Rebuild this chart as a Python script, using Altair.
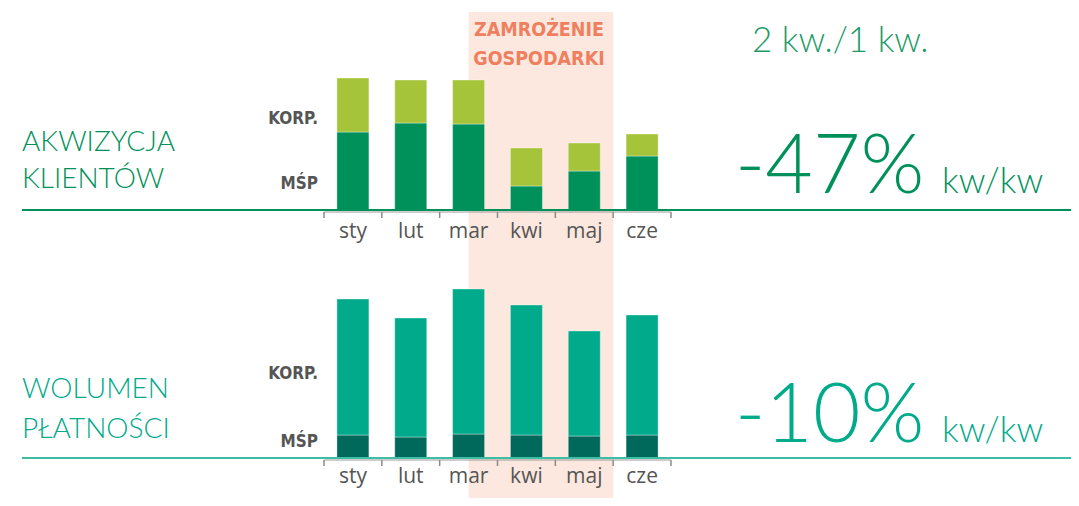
import altair as alt
import pandas as pd

# ---- data ----
months = ["sty", "lut", "mar", "kwi", "maj", "cze"]
segments = ["MŚP", "KORP."]
akw_msp = [78, 87, 86, 24, 39, 54]
akw_korp = [54, 43, 44, 38, 28, 22]
wol_msp = [23, 21, 24, 23, 22, 23]
wol_korp = [136, 119, 145, 130, 105, 120]
freeze_start = ["mar"]
freeze_end = ["maj"]


def long_df(msp, korp):
    rows = []
    for m, a, b in zip(months, msp, korp):
        rows.append({"month": m, "segment": segments[0], "value": a, "ord": 0})
        rows.append({"month": m, "segment": segments[1], "value": b, "ord": 1})
    return pd.DataFrame(rows)


akw_df = long_df(akw_msp, akw_korp)
wol_df = long_df(wol_msp, wol_korp)
month_df = pd.DataFrame({"month": months})
last_df = pd.DataFrame({"month": [months[-1]]})
first_last_df = pd.DataFrame({"a": [months[0]], "b": [months[-1]]})
shade_df = pd.DataFrame({"s": freeze_start, "e": freeze_end})

W, H = 1063, 490
xscale = alt.Scale(type="band", domain=months, range=[316, 663], paddingInner=0, paddingOuter=0)

GREEN = "#00915a"
LIME = "#a6c43a"
TEAL = "#00aa8b"
DTEAL = "#00695c"
GRAY = "#555555"
COND = "Liberation Sans Narrow, DejaVu Sans Condensed, sans-serif"
LIGHT = "Lato"

layers = []

# freeze shading
layers.append(
    alt.Chart(shade_df).mark_rect(color="#fce8de").encode(
        x=alt.X("s:N", bandPosition=0.5, scale=xscale, axis=None),
        x2=alt.X2("e:N", bandPosition=1),
        y=alt.value(4),
        y2=alt.value(H),
    )
)


def bars(df, ymin_px, colors):
    return alt.Chart(df).mark_bar(size=32, stroke="white", strokeWidth=0.6, strokeOpacity=0.6).encode(
        x=alt.X("month:N", scale=xscale, axis=None, sort=months),
        y=alt.Y("value:Q", stack="zero", scale=alt.Scale(domain=[0, 200], range=[ymin_px, ymin_px - 200]), axis=None),
        color=alt.Color("segment:N", scale=alt.Scale(domain=segments, range=colors), legend=None),
        order=alt.Order("ord:Q", sort="ascending"),
    )


def baseline(ypx, color):
    return alt.Chart(month_df.head(1)).mark_rule(color=color, strokeWidth=2).encode(
        x=alt.value(14), x2=alt.value(W), y=alt.value(ypx)
    )


def axis_ticks(ypx):
    t1 = alt.Chart(month_df).mark_rule(color="#8a8a8a", strokeWidth=1.5).encode(
        x=alt.X("month:N", bandPosition=0, scale=xscale, axis=None),
        y=alt.value(ypx), y2=alt.value(ypx + 6),
    )
    t2 = alt.Chart(last_df).mark_rule(color="#8a8a8a", strokeWidth=1.5).encode(
        x=alt.X("month:N", bandPosition=1, scale=xscale, axis=None),
        y=alt.value(ypx), y2=alt.value(ypx + 6),
    )
    line = alt.Chart(first_last_df).mark_rule(color="#9a9a9a", strokeWidth=1).encode(
        x=alt.X("a:N", bandPosition=0, scale=xscale, axis=None),
        x2=alt.X2("b:N", bandPosition=1),
        y=alt.value(ypx),
    )
    return [line, t1, t2]


def month_labels(ypx):
    return alt.Chart(month_df).mark_text(font="Open Sans", fontSize=21, fontWeight=500, color=GRAY,
                                         baseline="alphabetic").encode(
        x=alt.X("month:N", scale=xscale, axis=None), y=alt.value(ypx), text="month:N"
    )


def txt(text, x, y, size, color, font=LIGHT, weight=300, align="left"):
    return alt.Chart(pd.DataFrame({"t": [text]})).mark_text(
        font=font, fontSize=size, fontWeight=weight, color=color, align=align, baseline="alphabetic"
    ).encode(x=alt.value(x), y=alt.value(y), text="t:N")


# top panel
layers.append(bars(akw_df, 202, [GREEN, LIME]))
layers += axis_ticks(204)
layers.append(baseline(202, GREEN))
layers.append(month_labels(230))

# bottom panel
layers.append(bars(wol_df, 450, [DTEAL, TEAL]))
layers += axis_ticks(452)
layers.append(baseline(450, "#3cbea4"))
layers.append(month_labels(475))

# texts
layers += [
    txt("ZAMROŻENIE", 531, 28, 19.5, "#ef7f5f", COND, "bold", "center"),
    txt("GOSPODARKI", 531, 57, 19.5, "#ef7f5f", COND, "bold", "center"),
    txt("AKWIZYCJA", 14, 143, 28, GREEN),
    txt("KLIENTÓW", 14, 180, 28, GREEN),
    txt("WOLUMEN", 14, 390, 28, TEAL),
    txt("PŁATNOŚCI", 14, 430, 28, TEAL),
    txt("KORP.", 310, 116, 17, GRAY, COND, "bold", "right"),
    txt("MŚP", 310, 181, 17, GRAY, COND, "bold", "right"),
    txt("KORP.", 310, 371, 17, GRAY, COND, "bold", "right"),
    txt("MŚP", 310, 439, 17, GRAY, COND, "bold", "right"),
    txt("2 kw./1 kw.", 744, 44, 35, "#1b9a68"),
    txt("-47%", 727, 185, 82, GREEN),
    txt("kw/kw", 934, 185, 35, GREEN),
    txt("-10%", 727, 434, 82, TEAL),
    txt("kw/kw", 934, 434, 35, TEAL),
]

chart = (
    alt.layer(*layers)
    .resolve_scale(y="independent", color="independent")
    .properties(width=W, height=H, padding=0, autosize=alt.AutoSizeParams(type="fit", contains="padding"))
    .configure_view(stroke=None)
)

chart.save("out.html", embed_options={"renderer": "svg", "actions": False})
